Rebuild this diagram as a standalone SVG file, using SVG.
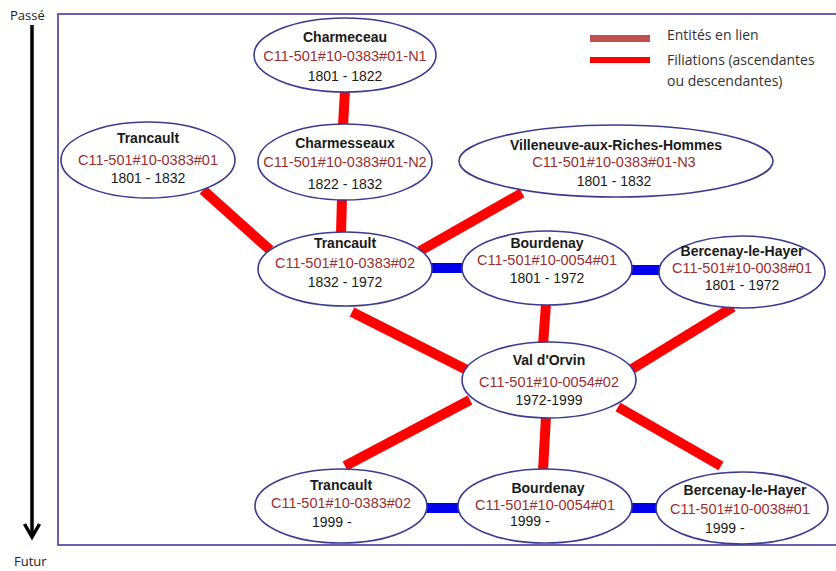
<svg xmlns="http://www.w3.org/2000/svg" width="836" height="571" viewBox="0 0 836 571">
<style>
.el{fill:#fff;stroke:#3b3b8f;stroke-width:1.6}
.t{font-family:"Liberation Sans",Arial,sans-serif;font-weight:bold;font-size:14px;fill:#1a1a1a;text-anchor:middle}
.c{font-family:"Liberation Sans",Arial,sans-serif;font-size:14.5px;fill:#9a2f2f;text-anchor:middle}
.d{font-family:"Liberation Sans",Arial,sans-serif;font-size:14px;fill:#1a1a1a;text-anchor:middle}
.dl{font-family:"Liberation Sans",Arial,sans-serif;font-size:14px;fill:#1a1a1a}
.r{stroke:#ff0000;stroke-width:10;fill:none}
.b{stroke:#0000ee;stroke-width:10;fill:none}
.lg{font-family:"Open Sans","Liberation Sans",sans-serif;font-size:14px;fill:#333}
.ax{font-family:"Open Sans","Liberation Sans",sans-serif;font-size:13px;fill:#222}
</style>
<rect x="0" y="0" width="836" height="571" fill="#fff"/>
<rect x="58" y="14" width="800" height="531" fill="none" stroke="#6a60b0" stroke-width="2"/>
<g id="axis">
<text class="ax" x="10" y="20">Passé</text>
<line x1="32" y1="25" x2="32" y2="534" stroke="#000" stroke-width="3.5"/>
<path d="M24.5,524 L32,537 L39.5,524" fill="none" stroke="#000" stroke-width="3.5" stroke-linejoin="miter"/>
<text class="ax" x="14" y="566">Futur</text>
</g>
<g id="legend">
<rect x="590" y="35" width="60" height="7" fill="#c0504d"/>
<rect x="590" y="57" width="60" height="6" fill="#ff0000"/>
<text class="lg" x="667" y="40">Entités en lien</text>
<text class="lg" x="667" y="65">Filiations (ascendantes</text>
<text class="lg" x="667" y="86">ou descendantes)</text>
</g>
<g id="connectors">
<line class="r" x1="345" y1="90" x2="343" y2="126"/>
<line class="r" x1="342" y1="198" x2="341" y2="234"/>
<line class="r" x1="203" y1="190" x2="270" y2="250"/>
<line class="r" x1="522" y1="193" x2="420" y2="251"/>
<line class="r" x1="352" y1="312" x2="467" y2="370"/>
<line class="r" x1="546" y1="304" x2="543" y2="345"/>
<line class="r" x1="733" y1="307" x2="627" y2="372"/>
<line class="r" x1="470" y1="400" x2="345" y2="466"/>
<line class="r" x1="546" y1="416" x2="543" y2="471"/>
<line class="r" x1="618" y1="407" x2="721" y2="466"/>
<line class="b" x1="430" y1="268" x2="464" y2="268"/>
<line class="b" x1="630" y1="270" x2="661" y2="270"/>
<line class="b" x1="425" y1="508" x2="460" y2="508"/>
<line class="b" x1="630" y1="508" x2="658" y2="508"/>
</g>
<g id="charmeceau">
<ellipse class="el" cx="345" cy="55" rx="91" ry="37"/>
<text class="t" x="345" y="42">Charmeceau</text>
<text class="c" x="345" y="61">C11-501#10-0383#01-N1</text>
<text class="d" x="345" y="81">1801 - 1822</text>
</g>
<g id="charmesseaux">
<ellipse class="el" cx="345" cy="162" rx="87" ry="38"/>
<text class="t" x="345" y="148">Charmesseaux</text>
<text class="c" x="345" y="167">C11-501#10-0383#01-N2</text>
<text class="d" x="345" y="189">1822 - 1832</text>
</g>
<g id="trancault01">
<ellipse class="el" cx="148" cy="160" rx="87" ry="38"/>
<text class="t" x="148" y="143">Trancault</text>
<text class="c" x="148" y="165">C11-501#10-0383#01</text>
<text class="d" x="148" y="183">1801 - 1832</text>
</g>
<g id="villeneuve">
<ellipse class="el" cx="616" cy="161" rx="157" ry="36"/>
<text class="t" x="616" y="150">Villeneuve-aux-Riches-Hommes</text>
<text class="c" x="614" y="167">C11-501#10-0383#01-N3</text>
<text class="d" x="614" y="186">1801 - 1832</text>
</g>
<g id="trancault02">
<ellipse class="el" cx="345" cy="269" rx="87" ry="37"/>
<text class="t" x="345" y="248">Trancault</text>
<text class="c" x="345" y="268">C11-501#10-0383#02</text>
<text class="d" x="345" y="287">1832 - 1972</text>
</g>
<g id="bourdenay01">
<ellipse class="el" cx="547" cy="268" rx="85" ry="37"/>
<text class="t" x="547" y="248">Bourdenay</text>
<text class="c" x="547" y="265">C11-501#10-0054#01</text>
<text class="d" x="547" y="283">1801 - 1972</text>
</g>
<g id="bercenay01">
<ellipse class="el" cx="742" cy="272" rx="83" ry="36"/>
<text class="t" x="742" y="256">Bercenay-le-Hayer</text>
<text class="c" x="742" y="273">C11-501#10-0038#01</text>
<text class="d" x="742" y="290">1801 - 1972</text>
</g>
<g id="valdorvin">
<ellipse class="el" cx="549" cy="380" rx="87" ry="38"/>
<text class="t" x="549" y="365">Val d'Orvin</text>
<text class="c" x="549" y="387">C11-501#10-0054#02</text>
<text class="d" x="549" y="405">1972-1999</text>
</g>
<g id="trancault02b">
<ellipse class="el" cx="341" cy="506" rx="86" ry="37"/>
<text class="t" x="341" y="490">Trancault</text>
<text class="c" x="341" y="508">C11-501#10-0383#02</text>
<text class="dl" x="312" y="527">1999 -</text>
</g>
<g id="bourdenay01b">
<ellipse class="el" cx="545" cy="506" rx="87" ry="37"/>
<text class="t" x="548" y="493">Bourdenay</text>
<text class="c" x="545" y="510">C11-501#10-0054#01</text>
<text class="dl" x="510" y="526">1999 -</text>
</g>
<g id="bercenay01b">
<ellipse class="el" cx="742" cy="508" rx="86" ry="36"/>
<text class="t" x="745" y="495">Bercenay-le-Hayer</text>
<text class="c" x="740" y="514">C11-501#10-0038#01</text>
<text class="dl" x="705" y="533">1999 -</text>
</g>
</svg>
